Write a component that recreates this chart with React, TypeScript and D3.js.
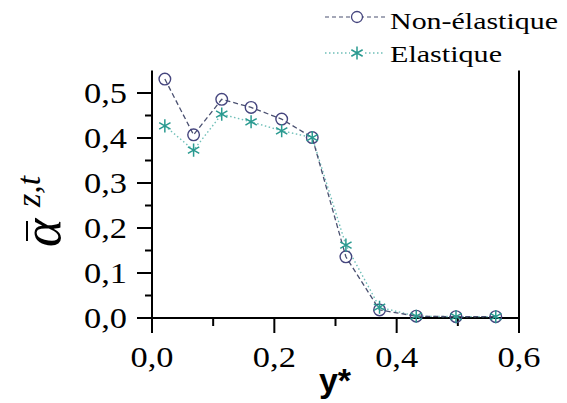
import React from "react";
import * as d3 from "d3";

const xValues = [0.021, 0.068, 0.114, 0.162, 0.212, 0.262, 0.317, 0.372, 0.432, 0.497, 0.562];
const nonElastique = [0.531, 0.407, 0.486, 0.468, 0.442, 0.401, 0.136, 0.018, 0.004, 0.003, 0.003];
const elastique = [0.427, 0.373, 0.453, 0.436, 0.416, 0.401, 0.162, 0.024, 0.004, 0.003, 0.003];
const xTicks = [0, 0.2, 0.4, 0.6];
const xMinor = [0.1, 0.3, 0.5];
const yTicks = [0, 0.1, 0.2, 0.3, 0.4, 0.5];
const yMinor = [0.05, 0.15, 0.25, 0.35, 0.45];
const seriesNames = ["Non-élastique", "Elastique"];

const fmt = (v: number) => v.toFixed(1).replace(".", ",");

export default function App() {
  const W = 567, H = 403;
  const x = d3.scaleLinear().domain([0, 0.6]).range([152, 519]);
  const y = d3.scaleLinear().domain([0, 0.5]).range([318, 93]);
  const yTop = y(0.55);
  const serifStyle = { fontFamily: "Liberation Serif, DejaVu Serif, Times New Roman, Times, serif" };
  const circleColor = "#45457e";
  const dashColor = "#4a5070";
  const teal = "#2a9a90";
  const tealLine = "#6fbfb8";

  const lineGen = d3.line<[number, number]>().x(d => x(d[0])).y(d => y(d[1]));
  const ptsA: [number, number][] = xValues.map((v, i) => [v, nonElastique[i]]);
  const ptsB: [number, number][] = xValues.map((v, i) => [v, elastique[i]]);
  const star = d3.symbol().type(d3.symbolAsterisk).size(120)();

  return (
    <svg width={W} height={H} style={{ position: "absolute", left: 0, top: 0, background: "#fff" }}>
      <rect width={W} height={H} fill="#fff" />
      {/* axes */}
      <line x1={x(0)} x2={x(0)} y1={yTop} y2={333} stroke="#000" strokeWidth={2} />
      <line x1={x(0.6)} x2={x(0.6)} y1={yTop} y2={333} stroke="#000" strokeWidth={2} />
      <line x1={137} x2={x(0.6)} y1={y(0)} y2={y(0)} stroke="#000" strokeWidth={2} />
      {xTicks.map(t => (
        <g key={"xt" + t}>
          <line x1={x(t)} x2={x(t)} y1={y(0)} y2={333} stroke="#000" strokeWidth={2} />
          <text x={x(t)} y={367} textAnchor="middle" style={serifStyle} fontSize={29} textLength={43} lengthAdjust="spacingAndGlyphs">{fmt(t)}</text>
        </g>
      ))}
      {xMinor.map(t => (
        <line key={"xm" + t} x1={x(t)} x2={x(t)} y1={y(0)} y2={326} stroke="#000" strokeWidth={2} />
      ))}
      {yTicks.map(t => (
        <g key={"yt" + t}>
          <line x1={137} x2={x(0)} y1={y(t)} y2={y(t)} stroke="#000" strokeWidth={2} />
          <text x={127} y={y(t)} dy="0.33em" textAnchor="end" style={serifStyle} fontSize={29} textLength={43} lengthAdjust="spacingAndGlyphs">{fmt(t)}</text>
        </g>
      ))}
      {yMinor.map(t => (
        <line key={"ym" + t} x1={145} x2={x(0)} y1={y(t)} y2={y(t)} stroke="#000" strokeWidth={2} />
      ))}
      {/* series lines */}
      <path d={lineGen(ptsB) || ""} fill="none" stroke={tealLine} strokeWidth={1.4} strokeDasharray="1.5,2.5" />
      <path d={lineGen(ptsA) || ""} fill="none" stroke={dashColor} strokeWidth={1.3} strokeDasharray="5,3" />
      {ptsA.map((p, i) => (
        <circle key={"c" + i} cx={x(p[0])} cy={y(p[1])} r={5.8} fill="none" stroke={circleColor} strokeWidth={1.4} />
      ))}
      {ptsB.map((p, i) => (
        <path key={"s" + i} d={star || ""} transform={`translate(${x(p[0])},${y(p[1])})`} stroke={teal} strokeWidth={1.5} fill="none" />
      ))}
      {/* legend */}
      <line x1={325} x2={385} y1={17} y2={17} stroke={dashColor} strokeWidth={1.2} strokeDasharray="4,3" />
      <circle cx={357} cy={17} r={5.5} fill="#fff" stroke={circleColor} strokeWidth={1.3} />
      <text x={390} y={29} style={serifStyle} fontSize={23} textLength={168} lengthAdjust="spacingAndGlyphs">{seriesNames[0]}</text>
      <line x1={325} x2={385} y1={53} y2={53} stroke={tealLine} strokeWidth={1.3} strokeDasharray="1.5,2.5" />
      <rect x={350} y={46} width={14} height={14} fill="#fff" />
      <path d={star || ""} transform="translate(357,53)" stroke={teal} strokeWidth={1.5} fill="none" />
      <text x={390} y={62} style={serifStyle} fontSize={23} textLength={112} lengthAdjust="spacingAndGlyphs">{seriesNames[1]}</text>
      {/* axis titles */}
      <text x={335} y={392} textAnchor="middle" style={{ fontFamily: "Liberation Sans, Arial, sans-serif" }} fontWeight="bold" fontSize={34}>y*</text>
      <g transform="translate(60,247) rotate(-90)">
        <text x={0} y={0} style={serifStyle} fontStyle="italic" fontSize={54}>α</text>
        <line x1={6} x2={26} y1={-33} y2={-33} stroke="#000" strokeWidth={2} />
        <text x={40} y={-20} style={serifStyle} fontStyle="italic" fontSize={34}>z,t</text>
      </g>
    </svg>
  );
}
